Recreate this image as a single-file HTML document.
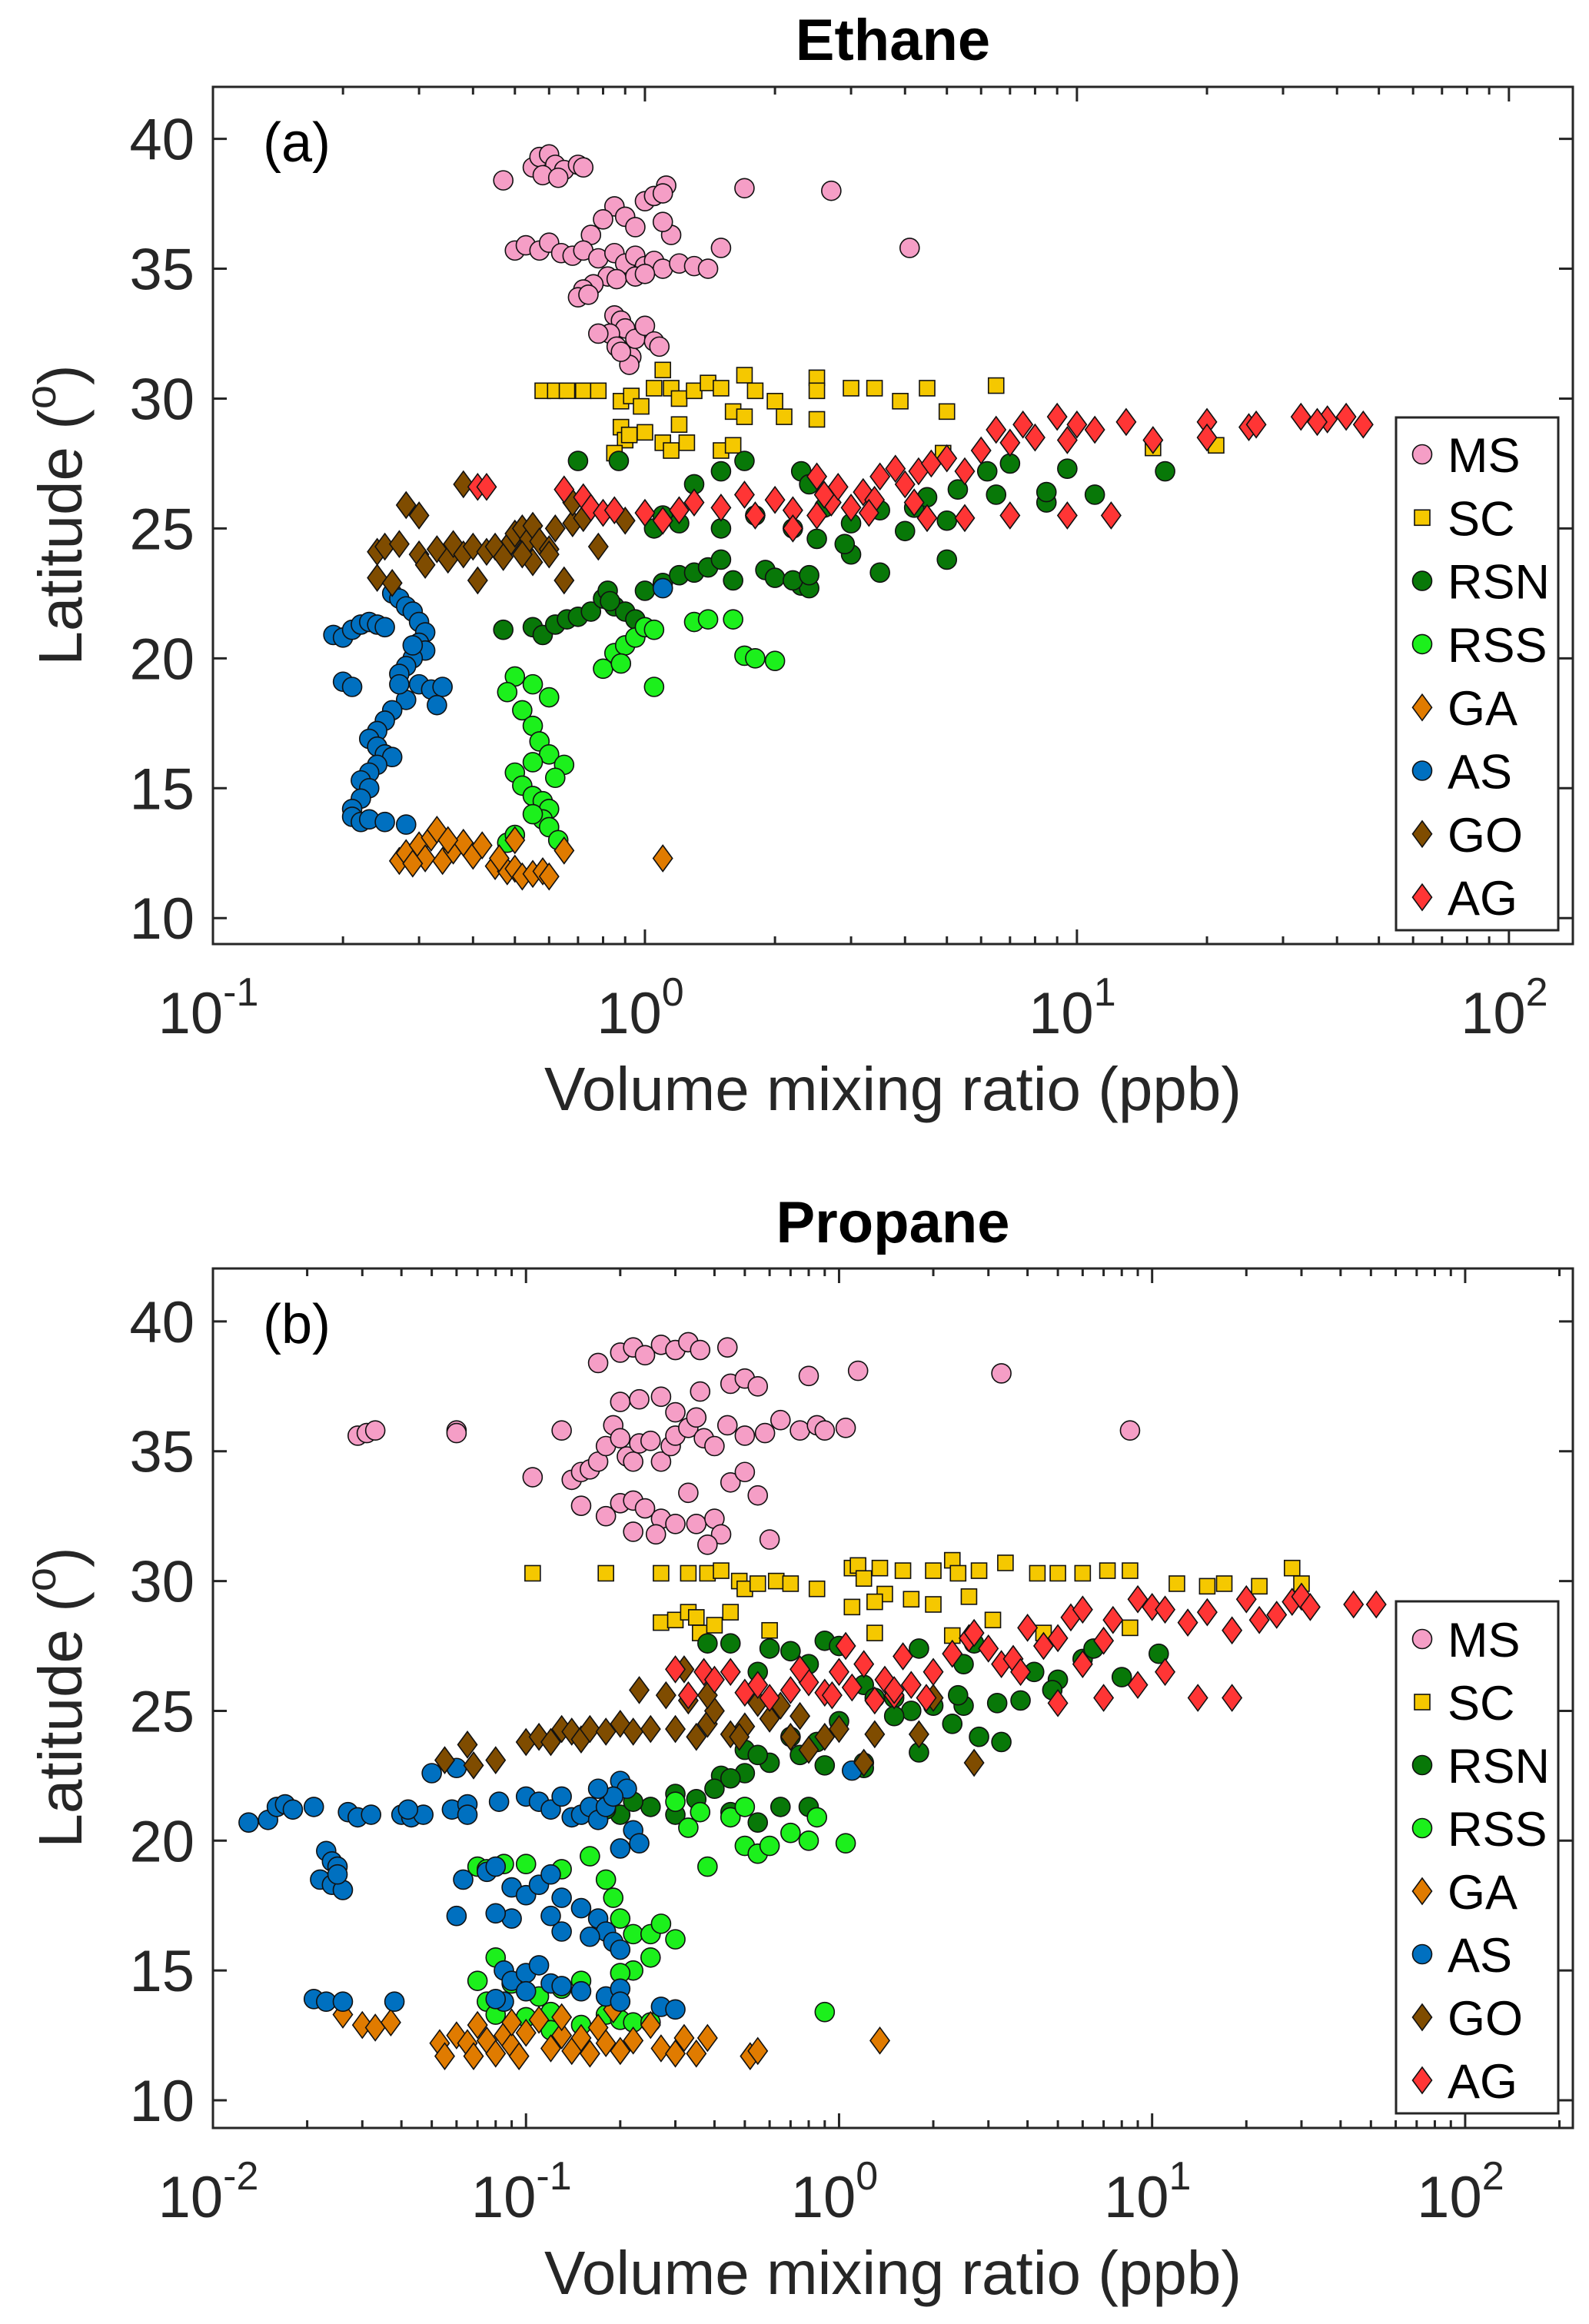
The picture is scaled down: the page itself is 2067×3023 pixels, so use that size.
<!DOCTYPE html>
<html><head><meta charset="utf-8"><style>
html,body{margin:0;padding:0;background:#fff;}
svg{display:block;font-family:"Liberation Sans",Arial,sans-serif;}
</style></head><body>
<svg id="chart" width="2067" height="3023" viewBox="0 0 2067 3023" xmlns="http://www.w3.org/2000/svg"></svg>
<script>
// ===== Panel (a) Ethane data: [ppb, latitude] =====
const ethaneMS=[[0.47,38.4],[0.55,38.9],[0.57,39.3],[0.6,39.4],[0.62,39.0],[0.65,38.8],[0.58,38.6],[0.63,38.5],[0.7,39.0],[0.72,38.9],[1.0,37.6],[1.05,37.8],[1.12,38.2],[1.1,37.9],[0.85,37.4],[0.9,37.0],[0.95,36.6],[0.8,36.9],[0.75,36.3],[1.15,36.3],[1.1,36.8],[1.7,38.1],[2.7,38.0],[4.1,35.8],[1.5,35.8],[0.5,35.7],[0.53,35.9],[0.57,35.7],[0.6,36.0],[0.64,35.6],[0.68,35.5],[0.72,35.7],[0.78,35.4],[0.85,35.6],[0.9,35.2],[0.95,35.5],[1.0,35.1],[1.05,35.3],[1.1,35.0],[1.2,35.2],[1.3,35.1],[1.4,35.0],[0.82,34.7],[0.76,34.4],[0.72,34.2],[0.7,33.9],[0.74,34.0],[0.86,34.6],[0.95,34.7],[1.0,34.8],[0.85,33.2],[0.88,33.0],[0.9,32.7],[0.83,32.5],[0.78,32.5],[0.86,32.0],[0.93,31.6],[0.92,31.3],[0.95,32.3],[1.0,32.8],[1.05,32.2],[1.08,32.0],[0.88,31.8]];
const ethaneSC=[[0.58,30.3],[0.62,30.3],[0.66,30.3],[0.72,30.3],[0.78,30.3],[0.88,29.9],[0.93,30.1],[0.98,29.7],[1.05,30.4],[1.1,31.1],[1.15,30.4],[1.2,30.0],[1.3,30.3],[1.4,30.6],[1.5,30.4],[1.7,30.9],[1.8,30.3],[2.0,29.9],[2.5,30.8],[2.5,30.3],[3.0,30.4],[3.4,30.4],[3.9,29.9],[4.5,30.4],[6.5,30.5],[5.0,29.5],[2.1,29.3],[1.6,29.5],[1.2,29.0],[0.88,28.9],[0.9,28.4],[0.92,28.6],[0.85,27.9],[1.1,28.3],[1.15,28.0],[1.5,28.0],[1.6,28.2],[1.7,29.3],[1.25,28.3],[15,28.1],[21,28.2],[4.9,27.9],[2.5,29.2],[1.0,28.7]];
const ethaneRSN=[[0.47,21.1],[0.55,21.2],[0.58,20.9],[0.62,21.3],[0.66,21.5],[0.7,21.6],[0.75,21.8],[0.8,22.3],[0.82,22.6],[0.85,22.0],[0.9,21.8],[0.95,21.5],[1.0,22.6],[1.1,22.9],[1.2,23.2],[1.3,23.3],[1.4,23.5],[1.5,23.8],[1.6,23.0],[1.9,23.4],[2.0,23.1],[2.3,22.8],[2.4,22.7],[2.2,23.0],[2.4,23.2],[3.0,24.0],[3.5,23.3],[5.0,23.8],[0.7,27.6],[0.87,27.6],[1.3,26.7],[1.5,27.2],[1.7,27.6],[2.3,27.2],[2.4,26.7],[1.1,25.5],[1.2,25.2],[1.5,25.0],[1.8,25.5],[2.2,25.0],[2.5,24.6],[2.9,24.4],[3.0,25.2],[3.5,25.7],[4.2,25.8],[4.5,26.2],[5.0,25.3],[5.3,26.5],[6.2,27.2],[7.0,27.5],[6.5,26.3],[8.5,26.0],[8.5,26.4],[9.5,27.3],[11,26.3],[16,27.2],[4.0,24.9],[2.6,25.8],[1.05,25.0],[0.83,22.2]];
const ethaneRSS=[[0.5,19.3],[0.55,19.0],[0.48,18.7],[0.6,18.5],[0.52,18.0],[0.55,17.4],[0.57,16.8],[0.6,16.3],[0.65,15.9],[0.55,16.0],[0.5,15.6],[0.52,15.1],[0.55,14.7],[0.58,14.5],[0.6,14.2],[0.62,15.4],[0.58,13.8],[0.6,13.5],[0.63,13.0],[0.48,12.9],[0.5,13.2],[0.55,14.0],[0.8,19.6],[0.85,20.2],[0.9,20.5],[0.95,20.8],[1.0,21.2],[1.05,21.1],[1.05,18.9],[1.3,21.4],[1.4,21.5],[1.6,21.5],[1.7,20.1],[1.8,20.0],[2.0,19.9],[0.88,19.8]];
const ethaneGA=[[0.27,12.2],[0.28,12.5],[0.3,12.8],[0.31,12.3],[0.32,13.1],[0.34,12.2],[0.36,12.6],[0.38,12.9],[0.4,12.4],[0.42,12.8],[0.33,13.4],[0.35,13.0],[0.29,12.1],[0.45,12.0],[0.48,11.8],[0.5,11.9],[0.52,11.6],[0.55,11.7],[0.58,11.8],[0.6,11.6],[0.5,13.0],[0.65,12.6],[1.1,12.3],[0.46,12.3]];
const ethaneAS=[[0.19,20.9],[0.2,20.8],[0.21,21.1],[0.22,21.3],[0.23,21.4],[0.24,21.3],[0.25,21.2],[0.2,19.1],[0.21,18.9],[0.26,22.5],[0.27,22.3],[0.28,22.0],[0.29,21.8],[0.3,21.4],[0.31,21.0],[0.3,20.6],[0.31,20.3],[0.29,20.0],[0.28,19.7],[0.27,19.4],[0.3,19.0],[0.32,18.8],[0.34,18.9],[0.33,18.2],[0.28,18.4],[0.26,18.0],[0.25,17.6],[0.24,17.2],[0.23,16.9],[0.24,16.6],[0.25,16.3],[0.26,16.2],[0.24,15.9],[0.23,15.6],[0.22,15.3],[0.23,15.0],[0.22,14.6],[0.21,14.2],[0.21,13.9],[0.22,13.7],[0.23,13.8],[0.25,13.7],[0.28,13.6],[0.27,19.0],[0.29,20.5],[1.1,22.7]];
const ethaneGO=[[0.24,24.1],[0.25,24.3],[0.24,23.1],[0.26,22.9],[0.27,24.4],[0.28,25.9],[0.3,25.5],[0.3,24.0],[0.31,23.6],[0.33,24.2],[0.35,23.8],[0.36,24.4],[0.38,26.7],[0.38,24.0],[0.4,24.3],[0.41,23.0],[0.43,24.1],[0.45,24.3],[0.47,23.9],[0.49,24.5],[0.5,24.8],[0.52,25.0],[0.54,24.6],[0.55,25.1],[0.57,24.5],[0.6,24.2],[0.62,25.0],[0.65,23.0],[0.68,25.2],[0.72,25.4],[0.78,24.3],[0.6,24.0],[0.55,23.7],[0.9,25.3],[0.68,26.0],[0.52,24.0]];
const ethaneAG=[[0.41,26.6],[0.43,26.6],[0.65,26.5],[0.72,26.2],[0.75,25.8],[0.8,25.6],[0.85,25.7],[1.0,25.6],[1.2,25.7],[1.3,26.0],[1.5,25.8],[1.7,26.3],[1.8,25.5],[2.0,26.1],[2.2,25.7],[2.5,25.5],[2.7,26.0],[2.8,26.6],[3.0,25.8],[3.2,26.4],[3.5,27.0],[3.8,27.3],[4.0,26.7],[4.3,27.2],[4.6,27.5],[5.0,27.7],[5.5,27.2],[6.0,28.0],[6.5,28.8],[7.0,28.3],[7.5,29.0],[8.0,28.5],[9.0,29.3],[9.5,28.4],[10,29.0],[11,28.8],[13,29.1],[15,28.4],[20,29.1],[20,28.5],[25,28.9],[26,29.0],[33,29.3],[38,29.2],[42,29.3],[46,29.0],[36,29.1],[9.5,25.5],[12,25.5],[7,25.5],[5.5,25.4],[4.5,25.4],[2.2,25.0],[2.6,26.3],[3.4,26.1],[1.1,25.3],[2.5,27.0],[3.3,25.6],[4.2,26.0]];
// ===== Panel (b) Propane data =====
const propaneMS=[[0.029,35.6],[0.031,35.7],[0.033,35.8],[0.06,35.8],[0.06,35.7],[0.105,34.0],[0.13,35.8],[0.14,33.9],[0.15,34.2],[0.16,34.3],[0.17,34.6],[0.18,35.2],[0.19,36.0],[0.2,35.5],[0.21,34.8],[0.22,34.6],[0.23,35.3],[0.25,35.4],[0.27,34.6],[0.29,35.2],[0.3,35.6],[0.33,35.9],[0.35,36.3],[0.37,35.5],[0.4,35.2],[0.44,36.0],[0.5,35.6],[0.45,33.8],[0.5,34.2],[0.55,33.3],[0.15,32.9],[0.18,32.5],[0.2,33.0],[0.22,33.1],[0.24,32.8],[0.27,32.4],[0.3,32.2],[0.33,33.4],[0.35,32.2],[0.4,32.4],[0.42,31.8],[0.38,31.4],[0.6,31.6],[0.22,31.9],[0.26,31.8],[0.17,38.4],[0.2,38.8],[0.22,39.0],[0.24,38.7],[0.27,39.1],[0.3,38.9],[0.33,39.2],[0.36,38.9],[0.44,39.0],[0.2,36.9],[0.23,37.0],[0.27,37.1],[0.3,36.5],[0.36,37.3],[0.45,37.6],[0.5,37.8],[0.55,37.5],[0.8,37.9],[1.15,38.1],[3.3,38.0],[8.5,35.8],[0.65,36.2],[0.75,35.8],[0.85,36.0],[0.9,35.8],[1.05,35.9],[0.58,35.7]];
const propaneSC=[[0.105,30.3],[0.18,30.3],[0.27,30.3],[0.33,30.3],[0.38,30.3],[0.42,30.4],[0.48,30.0],[0.5,29.7],[0.55,29.9],[0.63,30.0],[0.7,29.9],[0.85,29.7],[1.1,30.5],[1.15,30.6],[1.35,30.5],[1.6,30.4],[2.0,30.4],[2.3,30.8],[2.4,30.3],[2.8,30.4],[3.4,30.7],[4.3,30.3],[5.0,30.3],[6.0,30.3],[7.2,30.4],[8.5,30.4],[1.2,30.1],[1.4,29.5],[1.7,29.3],[2.0,29.1],[2.6,29.4],[1.1,29.0],[1.3,29.2],[0.27,28.4],[0.3,28.5],[0.33,28.8],[0.35,28.6],[0.36,28.0],[0.4,28.3],[0.45,28.8],[0.6,28.1],[1.3,28.0],[2.3,27.9],[4.5,28.0],[8.5,28.2],[12,29.9],[15,29.8],[17,29.9],[22,29.8],[28,30.5],[30,29.9],[3.1,28.5]];
const propaneRSN=[[0.38,27.6],[0.45,27.6],[0.6,27.4],[0.7,27.3],[0.9,27.7],[1.0,27.5],[1.8,27.4],[2.7,27.6],[0.55,26.5],[0.8,26.8],[1.2,26.0],[1.5,25.5],[1.7,25.0],[2.0,25.2],[2.3,24.5],[2.5,25.2],[3.2,25.3],[3.8,25.4],[4.2,26.5],[5.0,26.2],[6.0,27.0],[8.0,26.3],[10.5,27.2],[2.8,24.0],[3.3,23.8],[1.8,23.4],[1.2,23.0],[0.9,22.9],[0.75,23.3],[0.6,23.0],[0.5,22.6],[0.42,22.5],[0.3,21.8],[0.25,21.3],[0.2,21.0],[0.22,21.5],[0.18,21.2],[0.3,21.0],[0.35,21.6],[0.4,22.0],[0.45,22.4],[0.5,23.5],[0.55,23.3],[0.7,24.0],[0.85,23.8],[1.0,24.6],[1.2,22.8],[1.3,25.5],[1.5,24.8],[2.4,25.6],[2.5,26.8],[6.5,27.4],[4.8,25.8],[0.65,21.3],[0.8,21.3],[0.55,20.7],[0.45,21.1]];
const propaneRSS=[[0.07,19.0],[0.075,18.9],[0.085,19.1],[0.1,19.1],[0.13,18.9],[0.16,19.4],[0.18,18.5],[0.19,17.8],[0.2,17.0],[0.22,16.4],[0.25,16.4],[0.27,16.8],[0.3,16.2],[0.25,15.5],[0.22,15.0],[0.2,14.9],[0.15,14.6],[0.13,14.3],[0.11,14.0],[0.09,14.5],[0.08,15.5],[0.075,13.8],[0.07,14.6],[0.08,13.3],[0.1,13.2],[0.12,13.4],[0.18,13.3],[0.2,13.1],[0.22,13.0],[0.25,13.0],[0.15,12.9],[0.12,12.7],[0.3,21.5],[0.36,21.1],[0.38,19.0],[0.45,20.9],[0.5,19.8],[0.55,19.5],[0.6,19.8],[0.7,20.3],[0.8,20.0],[0.85,20.9],[1.05,19.9],[0.9,13.4],[0.5,21.3],[0.33,20.5]];
const propaneGA=[[0.026,13.3],[0.03,12.9],[0.033,12.8],[0.037,13.0],[0.053,12.2],[0.055,11.7],[0.06,12.5],[0.065,12.2],[0.068,11.7],[0.07,12.9],[0.075,12.3],[0.08,11.8],[0.085,12.5],[0.09,12.1],[0.095,11.7],[0.1,12.6],[0.11,13.1],[0.12,12.0],[0.13,12.5],[0.14,11.9],[0.15,12.4],[0.16,11.8],[0.17,12.8],[0.18,12.2],[0.19,13.5],[0.2,11.9],[0.22,12.3],[0.25,12.9],[0.27,12.0],[0.3,11.8],[0.32,12.4],[0.35,11.8],[0.38,12.4],[0.52,11.7],[0.55,11.9],[1.35,12.3],[0.09,13.0],[0.13,13.2]];
const propaneAS=[[0.013,20.7],[0.015,20.8],[0.016,21.3],[0.017,21.4],[0.018,21.2],[0.021,21.3],[0.027,21.1],[0.029,20.9],[0.032,21.0],[0.04,21.0],[0.043,20.9],[0.047,21.0],[0.042,21.2],[0.05,22.6],[0.06,22.8],[0.058,21.2],[0.065,21.4],[0.065,21.0],[0.082,21.5],[0.1,21.7],[0.11,21.5],[0.12,21.2],[0.13,21.7],[0.14,20.9],[0.15,21.0],[0.16,21.3],[0.17,20.8],[0.18,21.3],[0.2,22.3],[0.21,22.0],[0.19,21.7],[0.22,20.4],[0.23,19.9],[0.2,19.7],[0.023,19.6],[0.024,19.2],[0.025,19.0],[0.022,18.5],[0.024,18.3],[0.026,18.1],[0.025,18.7],[0.06,17.1],[0.063,18.5],[0.075,18.8],[0.08,19.0],[0.09,18.2],[0.1,17.9],[0.11,18.3],[0.12,18.7],[0.13,17.8],[0.15,17.4],[0.17,17.0],[0.18,16.5],[0.19,16.1],[0.2,15.8],[0.16,16.3],[0.13,16.5],[0.12,17.1],[0.09,17.0],[0.08,17.2],[0.085,15.0],[0.09,14.6],[0.1,14.9],[0.11,15.2],[0.12,14.5],[0.13,14.4],[0.15,14.2],[0.18,14.0],[0.2,14.3],[0.085,13.8],[0.08,13.9],[0.1,14.2],[0.27,13.6],[0.3,13.5],[0.021,13.9],[0.023,13.8],[0.026,13.8],[0.038,13.8],[0.2,13.8],[1.1,22.7],[0.17,22.0]];
const propaneGO=[[0.055,23.1],[0.065,23.7],[0.068,22.9],[0.08,23.1],[0.1,23.8],[0.11,24.0],[0.12,23.8],[0.13,24.3],[0.14,24.2],[0.15,23.9],[0.16,24.3],[0.18,24.2],[0.2,24.5],[0.22,24.2],[0.23,25.8],[0.25,24.3],[0.28,25.6],[0.3,24.3],[0.33,25.4],[0.35,24.0],[0.38,24.5],[0.4,25.0],[0.45,24.1],[0.5,24.4],[0.55,25.3],[0.6,24.7],[0.7,24.0],[0.8,23.5],[0.9,24.0],[1.0,24.3],[1.2,23.0],[1.3,24.1],[1.8,24.1],[2.0,25.5],[2.7,23.0],[0.65,25.2],[0.48,24.0],[0.32,26.6],[0.38,25.6],[0.75,24.8]];
const propaneAG=[[0.3,26.6],[0.33,25.6],[0.37,26.5],[0.4,26.2],[0.45,26.5],[0.5,25.7],[0.55,26.0],[0.6,25.5],[0.7,25.8],[0.8,26.1],[0.9,25.7],[1.0,26.5],[1.1,25.9],[1.2,26.8],[1.3,25.4],[1.4,26.2],[1.5,25.6],[1.6,27.1],[1.7,26.0],[1.9,25.5],[2.0,26.5],[2.3,27.2],[2.6,27.8],[3.0,27.4],[3.3,26.8],[3.6,27.0],[4.0,28.2],[4.5,27.5],[5.0,27.8],[5.5,28.6],[6.0,28.9],[7.0,27.7],[7.5,28.5],[9.0,29.3],[10,29.0],[11,28.9],[13,28.4],[15,28.8],[18,28.1],[20,29.3],[22,28.5],[25,28.7],[28,29.2],[30,29.4],[32,29.0],[44,29.1],[52,29.1],[14,25.5],[18,25.5],[11,26.5],[9,26.0],[7,25.5],[5,25.3],[3.8,26.5],[6,26.8],[0.75,26.6],[1.05,27.5],[2.7,28.0],[0.95,25.6],[1.5,25.8]];

const seriesNames=["MS","SC","RSN","RSS","GA","AS","GO","AG"];
const yTicks=[10,15,20,25,30,35,40];
const xTicksA=[-1,0,1,2];
const xTicksB=[-2,-1,0,1,2];

const styles={MS:{shape:"circle",fill:"#f59ec6"},SC:{shape:"square",fill:"#f5c800"},RSN:{shape:"circle",fill:"#087808"},RSS:{shape:"circle",fill:"#1cf01c"},GA:{shape:"diamond",fill:"#e07b00"},AS:{shape:"circle",fill:"#0070c0"},GO:{shape:"diamond",fill:"#7f4c00"},AG:{shape:"diamond",fill:"#ff3535"}};
const NS="http://www.w3.org/2000/svg";
const svg=document.getElementById('chart');
function mk(tag,attrs,parent){const e=document.createElementNS(NS,tag);for(const k in attrs)e.setAttribute(k,attrs[k]);(parent||svg).appendChild(e);return e;}
function marker(g,shape,cx,cy,fill){
  let e;
  if(shape==="circle")e=mk('circle',{cx:cx,cy:cy,r:12.5,fill:fill,stroke:"#111","stroke-width":1.6},g);
  else if(shape==="square")e=mk('rect',{x:cx-10,y:cy-10,width:20,height:20,fill:fill,stroke:"#111","stroke-width":1.6},g);
  else e=mk('polygon',{points:`${cx},${cy-17} ${cx+12.5},${cy} ${cx},${cy+17} ${cx-12.5},${cy}`,fill:fill,stroke:"#111","stroke-width":1.6},g);
  return e;
}
function panel(cfg){
  const {id,L,R,T,B,xmin,xmax,ymin,ymax,xticks,data,title,titleY,label,legTop,legBot,legY0,legStep,yTitleY}=cfg;
  const g=mk('g',{});
  
  
  const sx=v=>L+(Math.log10(v)-xmin)/(xmax-xmin)*(R-L);
  const sy=v=>B-(v-ymin)/(ymax-ymin)*(B-T);
  const t=mk('text',{x:(L+R)/2,y:titleY,'text-anchor':'middle','font-size':76,'font-weight':'bold',fill:'#000'},g);
  t.textContent=title;
  
  
  const pg=mk('g',{},g);
  
  
  seriesNames.forEach(n=>{
    const sg=mk('g',{},pg);
    
    
    data[n].forEach(p=>{
      const m=marker(sg,styles[n].shape,sx(p[0]),sy(p[1]),styles[n].fill);
      
      
    });
  });
  const ax=mk('g',{stroke:'#262626','stroke-width':3,fill:'none'},g);
  
  
  mk('rect',{x:L,y:T,width:R-L,height:B-T},ax);
  yTicks.forEach(v=>{
    const y=sy(v);
    mk('line',{x1:L,y1:y,x2:L+18,y2:y},ax);
    mk('line',{x1:R,y1:y,x2:R-18,y2:y},ax);
    const tl=mk('text',{x:L-24,y:y+27,'text-anchor':'end','font-size':76,fill:'#262626',stroke:'none'},g);
    tl.textContent=v;
    
    
  });
  for(let d=Math.floor(xmin);d<=Math.ceil(xmax);d++){
    for(let k=1;k<10;k++){
      const lv=d+Math.log10(k);
      if(lv<xmin-1e-9||lv>xmax)continue;
      const x=L+(lv-xmin)/(xmax-xmin)*(R-L);
      const len=k===1?19:10;
      mk('line',{x1:x,y1:B,x2:x,y2:B-len},ax);
      mk('line',{x1:x,y1:T,x2:x,y2:T+len},ax);
    }
  }
  xticks.forEach(d=>{
    const x=L+(d-xmin)/(xmax-xmin)*(R-L);
    const tl=mk('text',{x:x-6,y:B+116,'text-anchor':'middle','font-size':76,fill:'#262626'},g);
    
    
    const a=mk('tspan',{},tl);a.textContent='10';
    const b=mk('tspan',{dy:-36,'font-size':52},tl);b.textContent=String(d);
  });
  const xt=mk('text',{x:(L+R)/2,y:B+216,'text-anchor':'middle','font-size':80,fill:'#262626'},g);
  xt.textContent='Volume mixing ratio (ppb)';
  
  
  const yt=mk('text',{x:0,y:0,'text-anchor':'middle','font-size':80,fill:'#262626',transform:`translate(106,${yTitleY}) rotate(-90)`},g);
  
  
  const y1=mk('tspan',{},yt);y1.textContent='Latitude (';
  const y2=mk('tspan',{dy:-34,'font-size':56},yt);y2.textContent='o';
  const y3=mk('tspan',{dy:34},yt);y3.textContent=')';
  const pl=mk('text',{x:342,y:T+97,'font-size':72,fill:'#000'},g);
  pl.textContent=label;
  
  
  const lg=mk('g',{},g);
  
  
  mk('rect',{x:1816,y:legTop,width:211,height:legBot-legTop,fill:'#fff',stroke:'#262626','stroke-width':3},lg);
  seriesNames.forEach((n,i)=>{
    const y=legY0+i*legStep;
    const eg=mk('g',{},lg);
    
    
    marker(eg,styles[n].shape,1850,y,styles[n].fill);
    const tx=mk('text',{x:1883,y:y+23,'font-size':63,fill:'#000'},eg);
    tx.textContent=n;
  });
}
panel({id:'ethane',L:277,R:2046,T:113,B:1228,xmin:-1,xmax:2.148,ymin:9.0,ymax:42.0,xticks:xTicksA,
  data:{MS:ethaneMS,SC:ethaneSC,RSN:ethaneRSN,RSS:ethaneRSS,GA:ethaneGA,AS:ethaneAS,GO:ethaneGO,AG:ethaneAG},
  title:'Ethane',titleY:78,label:'(a)',legTop:543,legBot:1210,legY0:591,legStep:82.3,yTitleY:670});
panel({id:'propane',L:277,R:2046,T:1650,B:2768,xmin:-2,xmax:2.344,ymin:8.934,ymax:42.04,xticks:xTicksB,
  data:{MS:propaneMS,SC:propaneSC,RSN:propaneRSN,RSS:propaneRSS,GA:propaneGA,AS:propaneAS,GO:propaneGO,AG:propaneAG},
  title:'Propane',titleY:1616,label:'(b)',legTop:2083,legBot:2749,legY0:2132,legStep:82,yTitleY:2208});
</script>
</body></html>
